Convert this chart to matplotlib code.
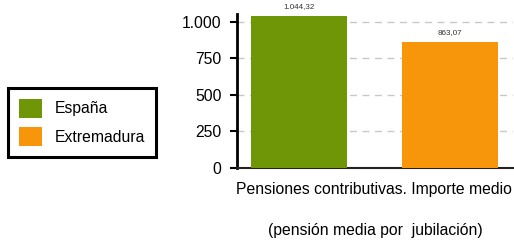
import matplotlib
matplotlib.use('Agg')
import matplotlib.pyplot as plt
from matplotlib.patches import Patch
from matplotlib.ticker import FuncFormatter

plt.rcParams['font.family'] = ['Liberation Sans', 'DejaVu Sans']

# datos
series = ['España', 'Extremadura']
valores = [1044.32, 863.07]
colores = ['#6e9606', '#f7960a']
categoria = 'Pensiones contributivas. Importe medio'
titulo_x = '(pensión media por  jubilación)'


def fmt_es(v, dec=2):
    s = f'{v:,.{dec}f}'
    return s.replace(',', 'X').replace('.', ',').replace('X', '.')


fig = plt.figure(figsize=(5.14, 2.41), dpi=100)
ax = fig.add_axes([0.461, 0.303, 0.537, 0.639])

xs = [0, 1]
ax.bar(xs, valores, width=0.64, color=colores, zorder=3)
for x, v in zip(xs, valores):
    ax.text(x, v + 40, fmt_es(v), ha='center', va='bottom', fontsize=5.8,
            color='#333333', clip_on=False, zorder=4)

ax.set_xlim(-0.413, 1.42)
ax.set_ylim(0, 1055)
ax.set_yticks([0, 250, 500, 750, 1000])
ax.yaxis.set_major_formatter(FuncFormatter(lambda v, p: fmt_es(v, 0)))
ax.grid(axis='y', color='#c8c8c8', linestyle=(0, (5, 4)), linewidth=1, zorder=0)

ax.set_xticks([0.5])
ax.set_xticklabels([categoria], fontsize=11.3)
ax.tick_params(axis='x', length=0, pad=10)
ax.tick_params(axis='y', labelsize=11.3, width=1.5, length=5, pad=6)
ax.set_xlabel(titulo_x, fontsize=11.3, labelpad=19)

for s in ['top', 'right']:
    ax.spines[s].set_visible(False)
ax.spines['left'].set_linewidth(2)
ax.spines['bottom'].set_linewidth(1.5)
ax.spines['bottom'].set_color('#222222')

handles = [Patch(facecolor=c, edgecolor='none') for c in colores]
leg = fig.legend(handles, series, loc='upper left', bbox_to_anchor=(0.016, 0.635),
                 fontsize=11.3, frameon=True, fancybox=False, handlelength=1.45,
                 handleheight=1.45, borderpad=0.7, labelspacing=0.62, handletextpad=0.8,
                 borderaxespad=0)
leg.get_frame().set_edgecolor('black')
leg.get_frame().set_linewidth(2.2)
leg.get_frame().set_alpha(1)

fig.savefig('out.png', dpi=100)
